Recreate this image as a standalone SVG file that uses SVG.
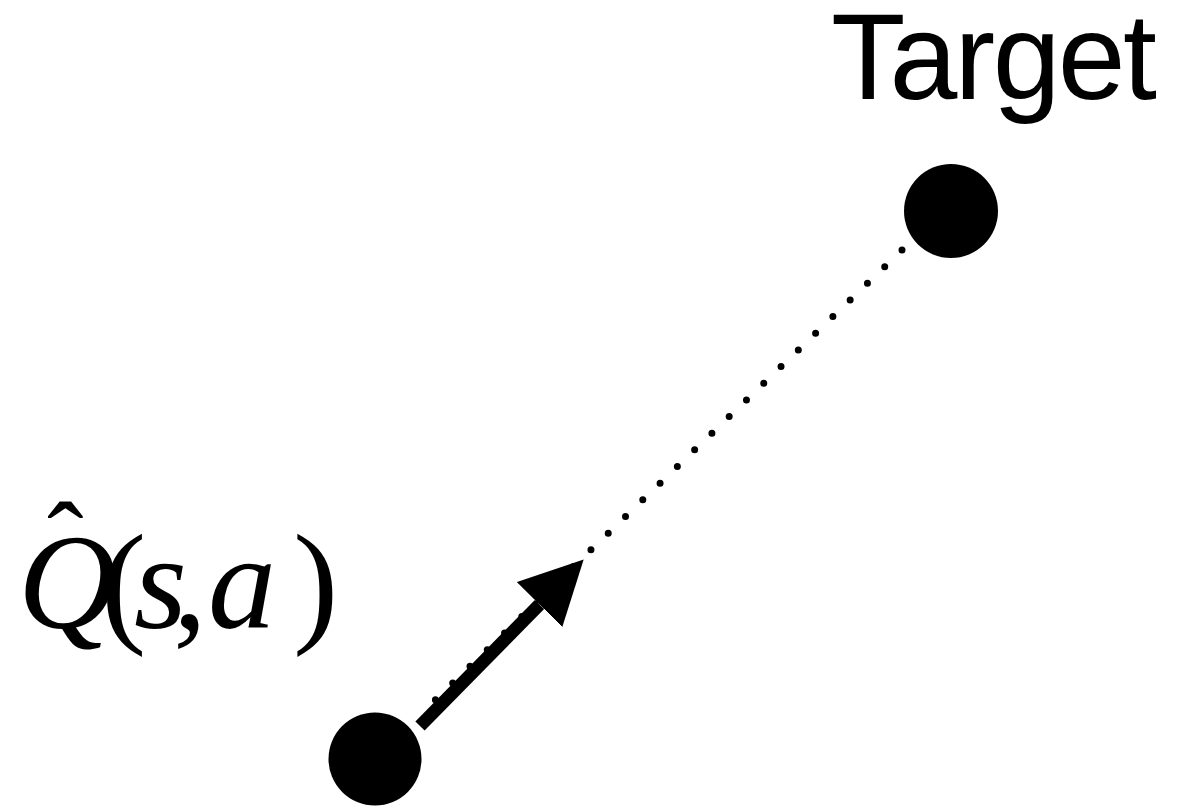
<svg xmlns="http://www.w3.org/2000/svg" width="1178" height="807" viewBox="0 0 1178 807">
  <style>
    .node { fill: #000; }
    .dots { fill: none; stroke: #000; stroke-width: 7; stroke-linecap: round; stroke-dasharray: 0 24; }
    .shaft { fill: none; stroke: #000; stroke-width: 13; stroke-linecap: butt; }
    .sans { font-family: "Liberation Sans", Arial, sans-serif; fill: #000; }
    .serif { font-family: "Liberation Serif", "Times New Roman", serif; fill: #000; }
    .it { font-style: italic; }
  </style>
  <defs>
    <marker id="head" markerUnits="userSpaceOnUse" markerWidth="64" markerHeight="64" viewBox="0 0 64 64" refX="0" refY="32" orient="auto">
      <path d="M0,0 L63,32 L0,64 z" fill="#000"/>
    </marker>
  </defs>
  <rect width="1178" height="807" fill="#fff"/>
  <g id="connectors">
    <path class="dots" d="M902,250 L433,702"/>
    <path class="shaft" d="M420,726 L539.5,604.5" marker-end="url(#head)"/>
  </g>
  <g id="target">
    <circle class="node" cx="951" cy="211" r="47"/>
    <text class="sans" x="831" y="99" font-size="122" textLength="326" lengthAdjust="spacing">Target</text>
  </g>
  <g id="qhat">
    <circle class="node" cx="375" cy="759" r="46.5"/>
    <text class="serif" y="628" font-size="136"><tspan class="it" x="18">Q</tspan><tspan x="101">(</tspan><tspan class="it" x="134">s</tspan><tspan x="173">,</tspan><tspan class="it" x="208">a</tspan><tspan x="293">)</tspan></text>
    <text class="serif" x="47" y="578" font-size="110">ˆ</text>
  </g>
</svg>
